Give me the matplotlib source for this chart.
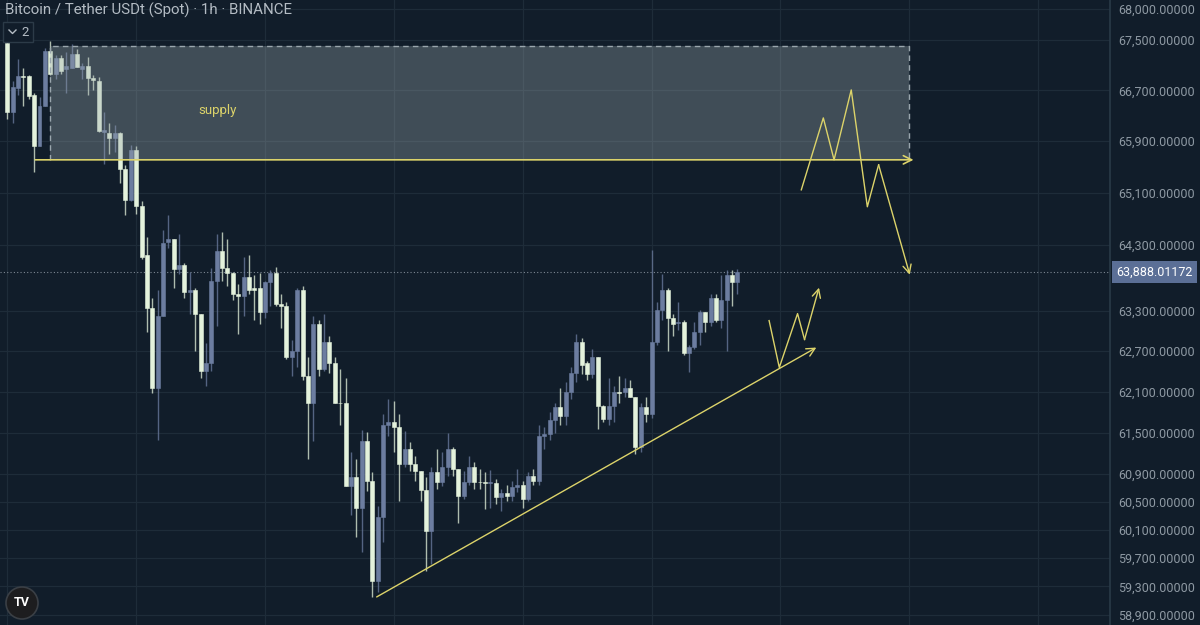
import numpy as np
import matplotlib
matplotlib.use("Agg")
import matplotlib.pyplot as plt
import matplotlib.transforms as mtransforms
from matplotlib.patches import Rectangle, Circle
from matplotlib.lines import Line2D
from matplotlib.ticker import NullLocator, FixedLocator

plt.rcParams['font.family'] = ['Roboto', 'DejaVu Sans']

# BTC/USDT 1h candles
opens = [67450, 66360, 66740, 66930, 66930, 66630, 65830, 66450, 67320, 66960,
         67210, 67040, 67050, 67280, 67040, 67090, 66900, 66850, 66050, 66030,
         65950, 66030, 65460, 64990, 65770, 64900, 64140, 63340, 62160, 63220,
         64350, 64390, 63940, 64000, 63580, 63620, 63260, 62400, 62530, 63760,
         64210, 63950, 63880, 63550, 63520, 63820, 63640, 63640, 63280, 63730,
         63880, 63410, 63370, 62610, 62710, 63610, 62330, 61930, 63100, 62440,
         62840, 62520, 61940, 61930, 60730, 60860, 60420, 61380, 60800, 59380,
         60280, 61610, 61650, 61580, 61040, 61260, 61040, 60940, 60670, 60080,
         60930, 60780, 61000, 61260, 60970, 60580, 60780, 61010, 60790, 60780,
         60770, 60770, 60570, 60630, 60580, 60710, 60740, 60540, 60870, 60800,
         61450, 61480, 61680, 61870, 61740, 62090, 62380, 62840, 62520, 62360,
         62610, 61890, 61700, 61890, 62090, 62090, 62150, 62020, 61300, 61870,
         61770, 62840, 63320, 63620, 63200, 63120, 63130, 62670, 62760, 62980,
         63280, 63130, 63490, 63160, 63470, 63850, 63740]
highs = [67550, 66850, 67200, 67050, 66940, 66660, 66600, 67370, 67480, 67260,
         67260, 67310, 67440, 67360, 67130, 67230, 66940, 66910, 66360, 66190,
         66160, 66050, 65530, 65840, 65830, 64980, 64420, 63490, 63620, 64530,
         64750, 64390, 64470, 64030, 63890, 63640, 63260, 62830, 63950, 64460,
         64490, 64390, 63890, 63710, 64120, 64150, 63850, 63880, 63760, 63920,
         63970, 63560, 63440, 62870, 63640, 63670, 62620, 63230, 63160, 63250,
         62920, 62620, 62440, 62310, 61220, 61120, 61540, 61510, 60930, 60440,
         61780, 61990, 61960, 61770, 61520, 61360, 61160, 60940, 60860, 61010,
         61270, 61220, 61490, 61300, 60970, 60940, 61160, 61070, 60970, 60930,
         60960, 60830, 60680, 60750, 60800, 60970, 60800, 60930, 60970, 61620,
         61580, 61800, 61940, 62150, 62250, 62460, 62950, 62900, 62560, 62740,
         62620, 61900, 62300, 62180, 62330, 62310, 62280, 62030, 61940, 62020,
         64230, 63440, 63860, 63640, 63250, 63440, 63160, 62800, 63130, 63320,
         63290, 63560, 63550, 63850, 63920, 63920, 63940]
lows = [66250, 66190, 66630, 66450, 66560, 65420, 65830, 66450, 66940, 66880,
        66960, 66660, 67050, 67070, 66880, 66630, 66710, 66050, 65550, 65700,
        65730, 65250, 64760, 64980, 64780, 64090, 62990, 62080, 61390, 63220,
        64260, 63640, 63860, 63490, 63250, 62700, 62300, 62190, 62400, 63080,
        63760, 63680, 63460, 62950, 63220, 63550, 63170, 63100, 63200, 63370,
        63370, 63050, 62580, 62330, 62470, 62280, 61120, 61380, 62330, 62400,
        62380, 61940, 61620, 60730, 60320, 60000, 59790, 60650, 59150, 59220,
        59930, 61450, 61220, 60510, 61010, 60940, 60800, 60510, 59520, 59620,
        60680, 60730, 60870, 60870, 60200, 60540, 60750, 60680, 60680, 60400,
        60420, 60470, 60370, 60510, 60510, 60640, 60420, 60510, 60750, 60750,
        61260, 61400, 61490, 61620, 61610, 61990, 62250, 62370, 62280, 62310,
        61560, 61650, 61620, 61650, 61940, 62030, 62020, 61190, 61220, 61650,
        61720, 62800, 63170, 62710, 62920, 63020, 62640, 62390, 62730, 62800,
        62980, 63080, 63130, 63050, 62710, 63370, 63560]
closes = [66360, 66750, 66930, 66910, 66610, 65830, 66450, 67320, 66960, 67210,
          67010, 67090, 67280, 67070, 67090, 66900, 66860, 66060, 66080, 65950,
          66030, 65460, 64990, 65770, 64900, 64120, 63340, 62160, 63220, 64330,
          64390, 63940, 64000, 63580, 63610, 63260, 62400, 62530, 63760, 64210,
          63950, 63880, 63550, 63520, 63820, 63610, 63620, 63280, 63730, 63880,
          63410, 63370, 62610, 62710, 63610, 62330, 61930, 63100, 62440, 62840,
          62520, 61940, 61930, 60730, 60860, 60420, 61380, 60800, 59380, 60280,
          61610, 61650, 61580, 61040, 61260, 61040, 60940, 60670, 60080, 60930,
          60780, 61000, 61260, 60970, 60580, 60780, 61010, 60780, 60780, 60770,
          60780, 60570, 60630, 60580, 60710, 60740, 60540, 60870, 60800, 61450,
          61480, 61680, 61870, 61740, 62090, 62380, 62840, 62500, 62360, 62610,
          61890, 61700, 61890, 62090, 62080, 62150, 62020, 61300, 61870, 61770,
          62840, 63320, 63620, 63200, 63110, 63140, 62670, 62760, 62980, 63280,
          63130, 63490, 63160, 63460, 63850, 63740, 63888.01172]

last_price = 63888.01172
price_ticks = [68000, 67500, 66700, 65900, 65100, 64300, 63300, 62700,
               62100, 61500, 60900, 60500, 60100, 59700, 59300, 58900]
day_lines = [0, 24, 48, 72, 96, 120, 144, 168, 192]

# drawings (bar index, price)
supply_box = [8.0, 168.0, 65610, 67400]      # left, right, bottom, top
supply_line = [(5.2, 65610), (168.8, 65610)]
zigzag_top = [(147.9, 65145), (152.0, 66265), (154.0, 65610), (157.2, 66706),
              (160.2, 64884), (162.3, 65533), (168.1, 63848)]
zigzag_low = [(141.9, 63157), (143.8, 62459), (147.2, 63262), (148.5, 62874),
              (151.2, 63652)]
trend_line = [(68.8, 59153), (150.7, 62755)]

BG = '#111d2a'
GRID = '#1e2c39'
UP = '#6c7da0'
DOWN = '#e4f2dc'
YEL = '#dcd36a'
TXT = '#8e99a3'

fig = plt.figure(figsize=(12, 6.25), dpi=100, facecolor=BG)
ax = fig.add_axes([0, 0, 1110 / 1200, 1])
ax.set_facecolor(BG)

o = np.array(opens); h = np.array(highs); l = np.array(lows); c = np.array(closes)
x = np.arange(len(o))
up = c >= o
col = np.where(up, UP, DOWN)

ax.vlines(x, l, h, colors=col, linewidth=1.0, alpha=0.75, zorder=3)
ax.bar(x, np.abs(c - o), bottom=np.minimum(o, c), width=0.74, color=col,
       edgecolor=col, linewidth=0.4, zorder=4)

ax.set_yscale('log')
ax.set_ylim(58761, 68143)
ax.set_xlim(-1.36, 205.4)

# axes / grid
ax.yaxis.tick_right()
ax.yaxis.set_major_locator(FixedLocator(price_ticks))
ax.yaxis.set_minor_locator(NullLocator())
ax.set_yticklabels([f'{v:,.5f}' for v in price_ticks])
ax.tick_params(axis='y', length=0, pad=6, labelsize=9, labelcolor=TXT)
ax.xaxis.set_major_locator(FixedLocator(day_lines))
ax.xaxis.set_minor_locator(NullLocator())
ax.tick_params(axis='x', length=0, labelbottom=False)
ax.grid(True, color=GRID, linewidth=0.9, zorder=0)
for s in ['top', 'bottom', 'left']:
    ax.spines[s].set_visible(False)
ax.spines['right'].set_color('#2a3a48')
ax.spines['right'].set_linewidth(1.2)

# last price
ax.axhline(last_price, color='#7d8894', linestyle=(0, (1, 2)), linewidth=0.8, zorder=2)
blend = mtransforms.blended_transform_factory(ax.transAxes, ax.transData)
ax.text(1.0 + 6 / 1110, last_price, f'{last_price:,.5f}', transform=blend,
        ha='left', va='center', fontsize=9, color='white', clip_on=False,
        bbox=dict(boxstyle='square,pad=0.35', facecolor='#5b6f96', edgecolor='none'))

# supply zone
bl, br, bb, bt = supply_box
ax.add_patch(Rectangle((bl, bb), br - bl, bt - bb, facecolor='#9aa8ad', alpha=0.35,
                       edgecolor='none', zorder=5))
ax.plot([bl, bl, br, br], [bb, bt, bt, bb], color='#9aa6ad', linestyle=(0, (4, 3)),
        linewidth=1.0, zorder=6)
ax.text(39.1, 66380, 'supply', color=YEL, fontsize=9.5, ha='center', va='center', zorder=7)

def arrow_path(pts, lw=1.0):
    xs = [p[0] for p in pts]
    ys = [p[1] for p in pts]
    ax.plot(xs[:-1], ys[:-1], color=YEL, linewidth=lw, zorder=7)
    ax.annotate('', xy=pts[-1], xytext=pts[-2],
                arrowprops=dict(arrowstyle='->,head_length=0.6,head_width=0.3',
                                color=YEL, linewidth=lw, shrinkA=0, shrinkB=0),
                zorder=7)

arrow_path(supply_line, lw=1.2)
arrow_path(zigzag_top)
arrow_path(zigzag_low)
arrow_path(trend_line)

# header
fig.text(5 / 1200, 1 - 10 / 625, 'Bitcoin / Tether USDt (Spot) · 1h · BINANCE',
         color='#b4bcc4', fontsize=10.8, ha='left', va='center')
fig.add_artist(Rectangle((3 / 1200, 1 - 42 / 625), 30 / 1200, 20 / 625,
                         transform=fig.transFigure, facecolor=BG, edgecolor='#2c3b48',
                         linewidth=1.0))
fig.add_artist(Line2D([9 / 1200, 12.5 / 1200, 16 / 1200],
                      [1 - 30 / 625, 1 - 33.5 / 625, 1 - 30 / 625],
                      transform=fig.transFigure, color='#b4bcc4', linewidth=1.0))
fig.text(21 / 1200, 1 - 32 / 625, '2', color='#b4bcc4', fontsize=9.5,
         ha='left', va='center')

# logo
fig.add_artist(Circle((0.22, 0.22), 0.16, transform=fig.dpi_scale_trans,
                      facecolor='#1d1d1f', edgecolor='#3a3f45', linewidth=1.2))
fig.text(0.22, 0.22, 'TV', transform=fig.dpi_scale_trans, color='white',
         fontsize=9, fontweight='bold', ha='center', va='center')

fig.savefig('out.png', dpi=100, facecolor=BG)
